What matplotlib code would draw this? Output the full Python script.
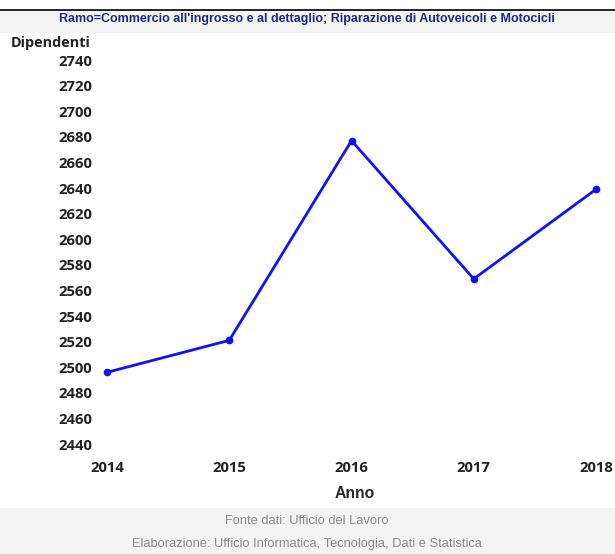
import matplotlib
matplotlib.use("Agg")
import matplotlib.pyplot as plt
from matplotlib.patches import Rectangle
from matplotlib.lines import Line2D

years = [2014, 2015, 2016, 2017, 2018]
dipendenti = [2496, 2521, 2677, 2569, 2639]
yticks = list(range(2440, 2741, 20))

W, H = 615, 554
fig = plt.figure(figsize=(W / 100, H / 100), dpi=100)
fig.patch.set_facecolor("white")

# header band
fig.patches.append(Rectangle((0, 1 - 33 / H), 1, 23 / H, transform=fig.transFigure,
                             facecolor="#f3f3f3", edgecolor="none", zorder=0))
fig.lines.append(Line2D([0, 1], [1 - 10 / H, 1 - 10 / H], transform=fig.transFigure,
                        color="black", lw=1.2))
# footer band
fig.patches.append(Rectangle((0, 0), 1, (H - 508) / H, transform=fig.transFigure,
                             facecolor="#f3f3f3", edgecolor="none", zorder=0))

left, right = 107 / W, 596 / W
bottom, top = 1 - 444 / H, 1 - 60 / H
ax = fig.add_axes([left, bottom, right - left, top - bottom])
ax.set_facecolor("none")
ax.plot(years, dipendenti, color="#1010ff", lw=2.0, marker="o", ms=4.5, clip_on=False)
ax.set_xlim(2014, 2018)
ax.set_ylim(2440, 2740)
ax.set_xticks(years)
ax.set_yticks(yticks)
for s in ax.spines.values():
    s.set_visible(False)
ax.tick_params(length=0)
ax.tick_params(axis="y", pad=10.5)
ax.tick_params(axis="x", pad=12)
for lab in ax.get_xticklabels() + ax.get_yticklabels():
    lab.set_fontfamily("Open Sans")
    lab.set_fontweight("bold")
    lab.set_fontsize(10.7)
    lab.set_color("#222222")

fig.text(307 / W, 1 - 19 / H,
         "Ramo=Commercio all'ingrosso e al dettaglio; Riparazione di Autoveicoli e Motocicli",
         ha="center", va="center", fontsize=9, fontweight="bold",
         family="Liberation Sans", color="#1c2a80")
fig.text(11 / W, 1 - 43 / H, "Dipendenti", ha="left", va="center", fontsize=10.4,
         fontweight="bold", family="Open Sans", color="#222222")
fig.text(355 / W, 1 - 493 / H, "Anno", ha="center", va="center", fontsize=11.3,
         fontweight="bold", family="Liberation Sans", color="#2a2a2a")
fig.text(307 / W, 1 - 521 / H, "Fonte dati: Ufficio del Lavoro", ha="center",
         va="center", fontsize=9.3, family="Liberation Sans", color="#8a8a8a")
fig.text(307 / W, 1 - 544 / H,
         "Elaborazione: Ufficio Informatica, Tecnologia, Dati e Statistica",
         ha="center", va="center", fontsize=9.3, family="Liberation Sans", color="#8a8a8a")

fig.savefig("out.png", dpi=100)
